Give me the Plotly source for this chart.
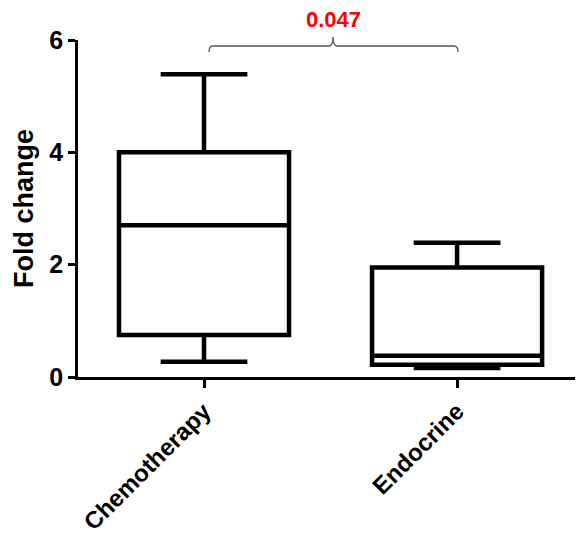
import plotly.graph_objects as go

categories = ["Chemotherapy", "Endocrine"]
lower = [0.27, 0.16]
q1 = [0.75, 0.22]
median = [2.70, 0.38]
q3 = [4.00, 1.95]
upper = [5.39, 2.39]
y_ticks = [0, 2, 4, 6]
p_label = "0.047"

W, H = 579, 538
L, R, T, B = 78, 4, 40, 161
pw, ph = W - L - R, H - T - B
xr = [-0.498, 1.466]
yr = [0, 6]

def px(p):
    return (p - L) / pw

def py(p):
    return (H - B - p) / ph

fig = go.Figure()
for i, c in enumerate(categories):
    fig.add_trace(go.Box(
        x=[i], q1=[q1[i]], median=[median[i]], q3=[q3[i]],
        lowerfence=[lower[i]], upperfence=[upper[i]],
        width=0.672, whiskerwidth=0.51,
        line=dict(color="black", width=4.5), fillcolor="white",
        boxpoints=False, showlegend=False, name=c, hoverinfo="skip"))

# bracket
x0, x1, xm = 209, 458, 333
yb, ye, yc = 46, 52, 37
path = (f"M {px(x0)},{py(ye)} Q {px(x0)},{py(yb)} {px(x0+4)},{py(yb)} "
        f"L {px(xm-4)},{py(yb)} Q {px(xm)},{py(yb)} {px(xm)},{py(yc)} "
        f"Q {px(xm)},{py(yb)} {px(xm+4)},{py(yb)} "
        f"L {px(x1-4)},{py(yb)} Q {px(x1)},{py(yb)} {px(x1)},{py(ye)}")
fig.add_shape(type="path", path=path, xref="paper", yref="paper",
              line=dict(color="#555555", width=1.3))
fig.add_annotation(x=px(xm), y=py(34), xref="paper", yref="paper",
                   text=f"<b>{p_label}</b>", showarrow=False,
                   xanchor="center", yanchor="bottom",
                   font=dict(color="#ff0000", size=22, family="Liberation Sans, Arial"))

fig.update_layout(
    width=W, height=H, margin=dict(l=L, r=R, t=T, b=B),
    plot_bgcolor="white", paper_bgcolor="white",
    font=dict(family="Liberation Sans, Arial", color="black"),
    xaxis=dict(range=xr, tickvals=[0, 1],
               ticktext=[f"<b>{c}</b>" for c in categories],
               tickangle=-45, ticks="outside", ticklen=8, tickwidth=2.5,
               tickcolor="black", showline=True, linecolor="black", linewidth=2.5,
               showgrid=False, zeroline=False, tickfont=dict(size=24)),
    yaxis=dict(range=yr, tickvals=y_ticks,
               ticktext=[f"<b>{v}</b>" for v in y_ticks],
               ticks="outside", ticklen=7, tickwidth=2.5, tickcolor="black",
               showline=True, linecolor="black", linewidth=2.5,
               showgrid=False, zeroline=False, tickfont=dict(size=25),
               title=dict(text="<b>Fold change</b>", font=dict(size=27), standoff=8)),
)
fig.write_html("out.html", config={"displayModeBar": False},
               post_script="document.body.style.margin='0';document.body.style.padding='0';")
